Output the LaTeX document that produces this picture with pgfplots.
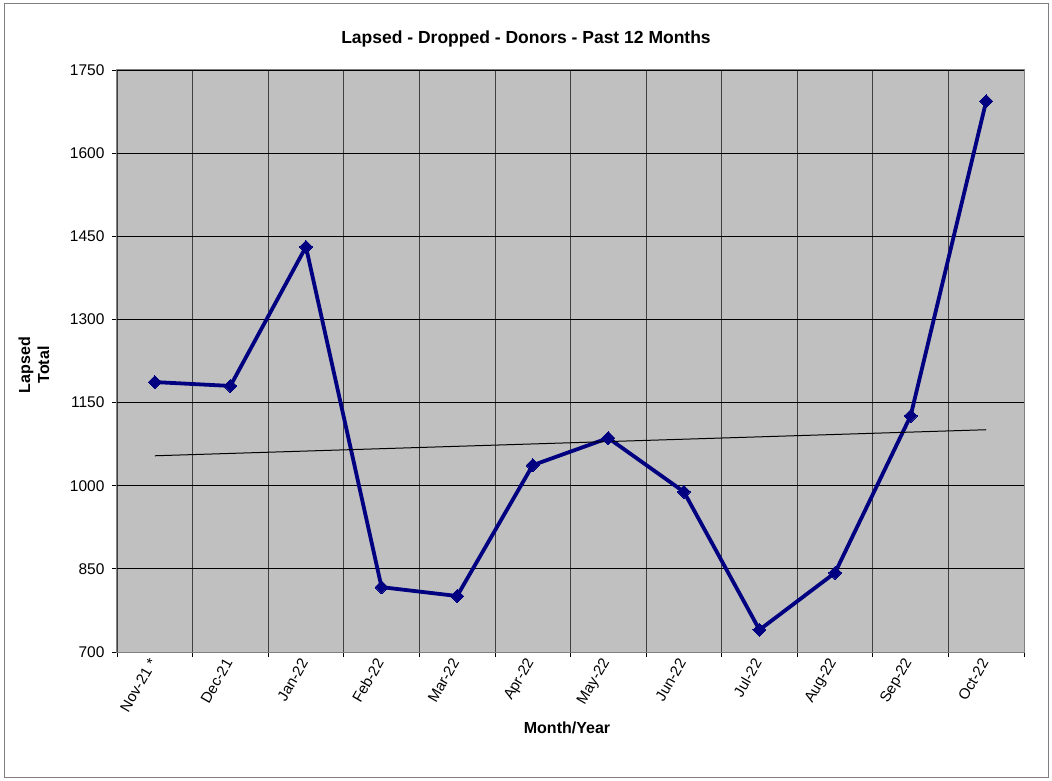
\documentclass[border=0pt]{standalone}
\usepackage{pgfplots}
\pgfplotsset{compat=1.18}
\usepackage{fontspec}
\setmainfont{Liberation Sans}
\definecolor{plotbg}{RGB}{192,192,192}
\definecolor{navy}{RGB}{0,0,128}
\definecolor{framegray}{RGB}{128,128,128}

\begin{document}
\begin{tikzpicture}
% chart area (page size) and its frame
\path (-117pt,-128pt) rectangle (935pt,652pt);
\draw[framegray, line width=1pt] (-112pt,-125pt) rectangle (931pt,648pt);
\begin{axis}[
    scale only axis,
    width=907pt, height=582pt,
    xmin=-0.5, xmax=11.5,
    ymin=700, ymax=1750,
    axis background/.style={fill=plotbg},
    axis line style={framegray, line width=1pt},
    ytick={700,850,...,1750},
    xtick={0,...,11},
    xticklabels={Nov-21 *,Dec-21,Jan-22,Feb-22,Mar-22,Apr-22,May-22,Jun-22,Jul-22,Aug-22,Sep-22,Oct-22},
    minor xtick={-0.5,0.5,...,11.5},
    tick align=outside, tick pos=left,
    major tick length=5pt, minor tick length=5pt,
    major x tick style={draw=none},
    tick style={black, line width=0.8pt},
    ymajorgrids, xminorgrids,
    major grid style={black, line width=0.8pt},
    minor grid style={black!75, line width=0.8pt},
    ticklabel style={font=\fontsize{15.5}{18}\selectfont},
    /pgf/number format/assume math mode=true,
    y tick label style={/pgf/number format/1000 sep={}, xshift=-4pt},
    x tick label style={rotate=60, anchor=east, font=\fontsize{15}{18}\selectfont},
    clip=false,
]
\addplot[navy, line width=3.8pt, mark=square*, mark size=4.6pt,
    mark options={rotate=45, fill=navy, line width=0pt}] coordinates {
    (0,1187) (1,1180) (2,1431) (3,817) (4,801) (5,1037)
    (6,1086) (7,989) (8,740) (9,843) (10,1126) (11,1694)
};
% linear trend line
\addplot[black, line width=1pt] coordinates {(0,1054) (11,1101)};
\end{axis}
\node[font=\bfseries\fontsize{16}{16}\selectfont, rotate=90, align=center] at (-83pt,287pt) {Lapsed\\[3pt]Total};
\node[font=\bfseries\fontsize{17.5}{20}\selectfont] at (409pt,613pt) {Lapsed - Dropped - Donors - Past 12 Months};
\node[font=\bfseries\fontsize{16}{19}\selectfont] at (450pt,-76pt) {Month/Year};
\end{tikzpicture}
\end{document}
